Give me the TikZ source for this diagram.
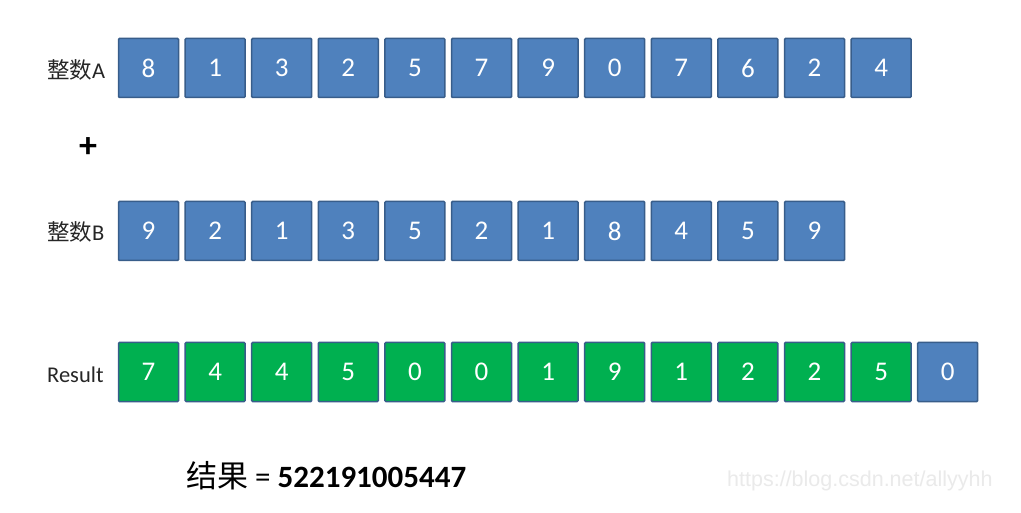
\documentclass[tikz,border=0pt]{standalone}
\usepackage{fontspec}
\setmainfont{Carlito}
\newfontfamily\cjk{Noto Sans CJK SC}
\newfontfamily\wmfont{Liberation Sans}
\definecolor{bluefill}{HTML}{4F81BD}
\definecolor{greenfill}{HTML}{00B050}
\definecolor{boxborder}{HTML}{385D8A}
\definecolor{wmgray}{HTML}{EAEAEA}
\tikzset{
  cell/.style={draw=boxborder, line width=1.5pt, minimum width=60pt, minimum height=59pt,
    inner sep=0pt, text=white, font=\fontsize{27}{27}\selectfont, rounded corners=1pt},
  bcell/.style={cell, fill=bluefill},
  gcell/.style={cell, fill=greenfill},
  lbl/.style={anchor=west, inner sep=0pt, font=\fontsize{22.5}{22.5}\selectfont, text=black!85},
}
\begin{document}
\begin{tikzpicture}[x=1pt,y=-1pt]
\useasboundingbox[fill=white] (0,0) rectangle (1021,513);
% Row A
\node[lbl] (la) at (47,70) {{\cjk 整数}A};
\foreach \d [count=\i from 0] in {8,1,3,2,5,7,9,0,7,6,2,4}
  \node[bcell] (a\i) at (148.5+66.6*\i,68) {\d};
% plus
\node[font=\fontsize{36}{36}\selectfont\bfseries, inner sep=0pt] (plus) at (88,148) {+};
% Row B
\node[lbl] (lb) at (47,232) {{\cjk 整数}B};
\foreach \d [count=\i from 0] in {9,2,1,3,5,2,1,8,4,5,9}
  \node[bcell] (b\i) at (148.5+66.6*\i,231) {\d};
% Result
\node[lbl] (lr) at (47,375) {Result};
\foreach \d [count=\i from 0] in {7,4,4,5,0,0,1,9,1,2,2,5}
  \node[gcell] (r\i) at (148.5+66.6*\i,372) {\d};
\node[bcell] (r12) at (148.5+66.6*12,372) {0};
% final
\node[anchor=west, inner sep=0pt, font=\fontsize{31}{31}\selectfont] (res) at (186,476)
  {{\cjk 结果} = \textbf{522191005447}};
\node[anchor=west, inner sep=0pt, text=wmgray, font=\wmfont\fontsize{21.5}{21.5}\selectfont] (wm) at (727,481)
  {https://blog.csdn.net/allyyhh};
\end{tikzpicture}
\end{document}
